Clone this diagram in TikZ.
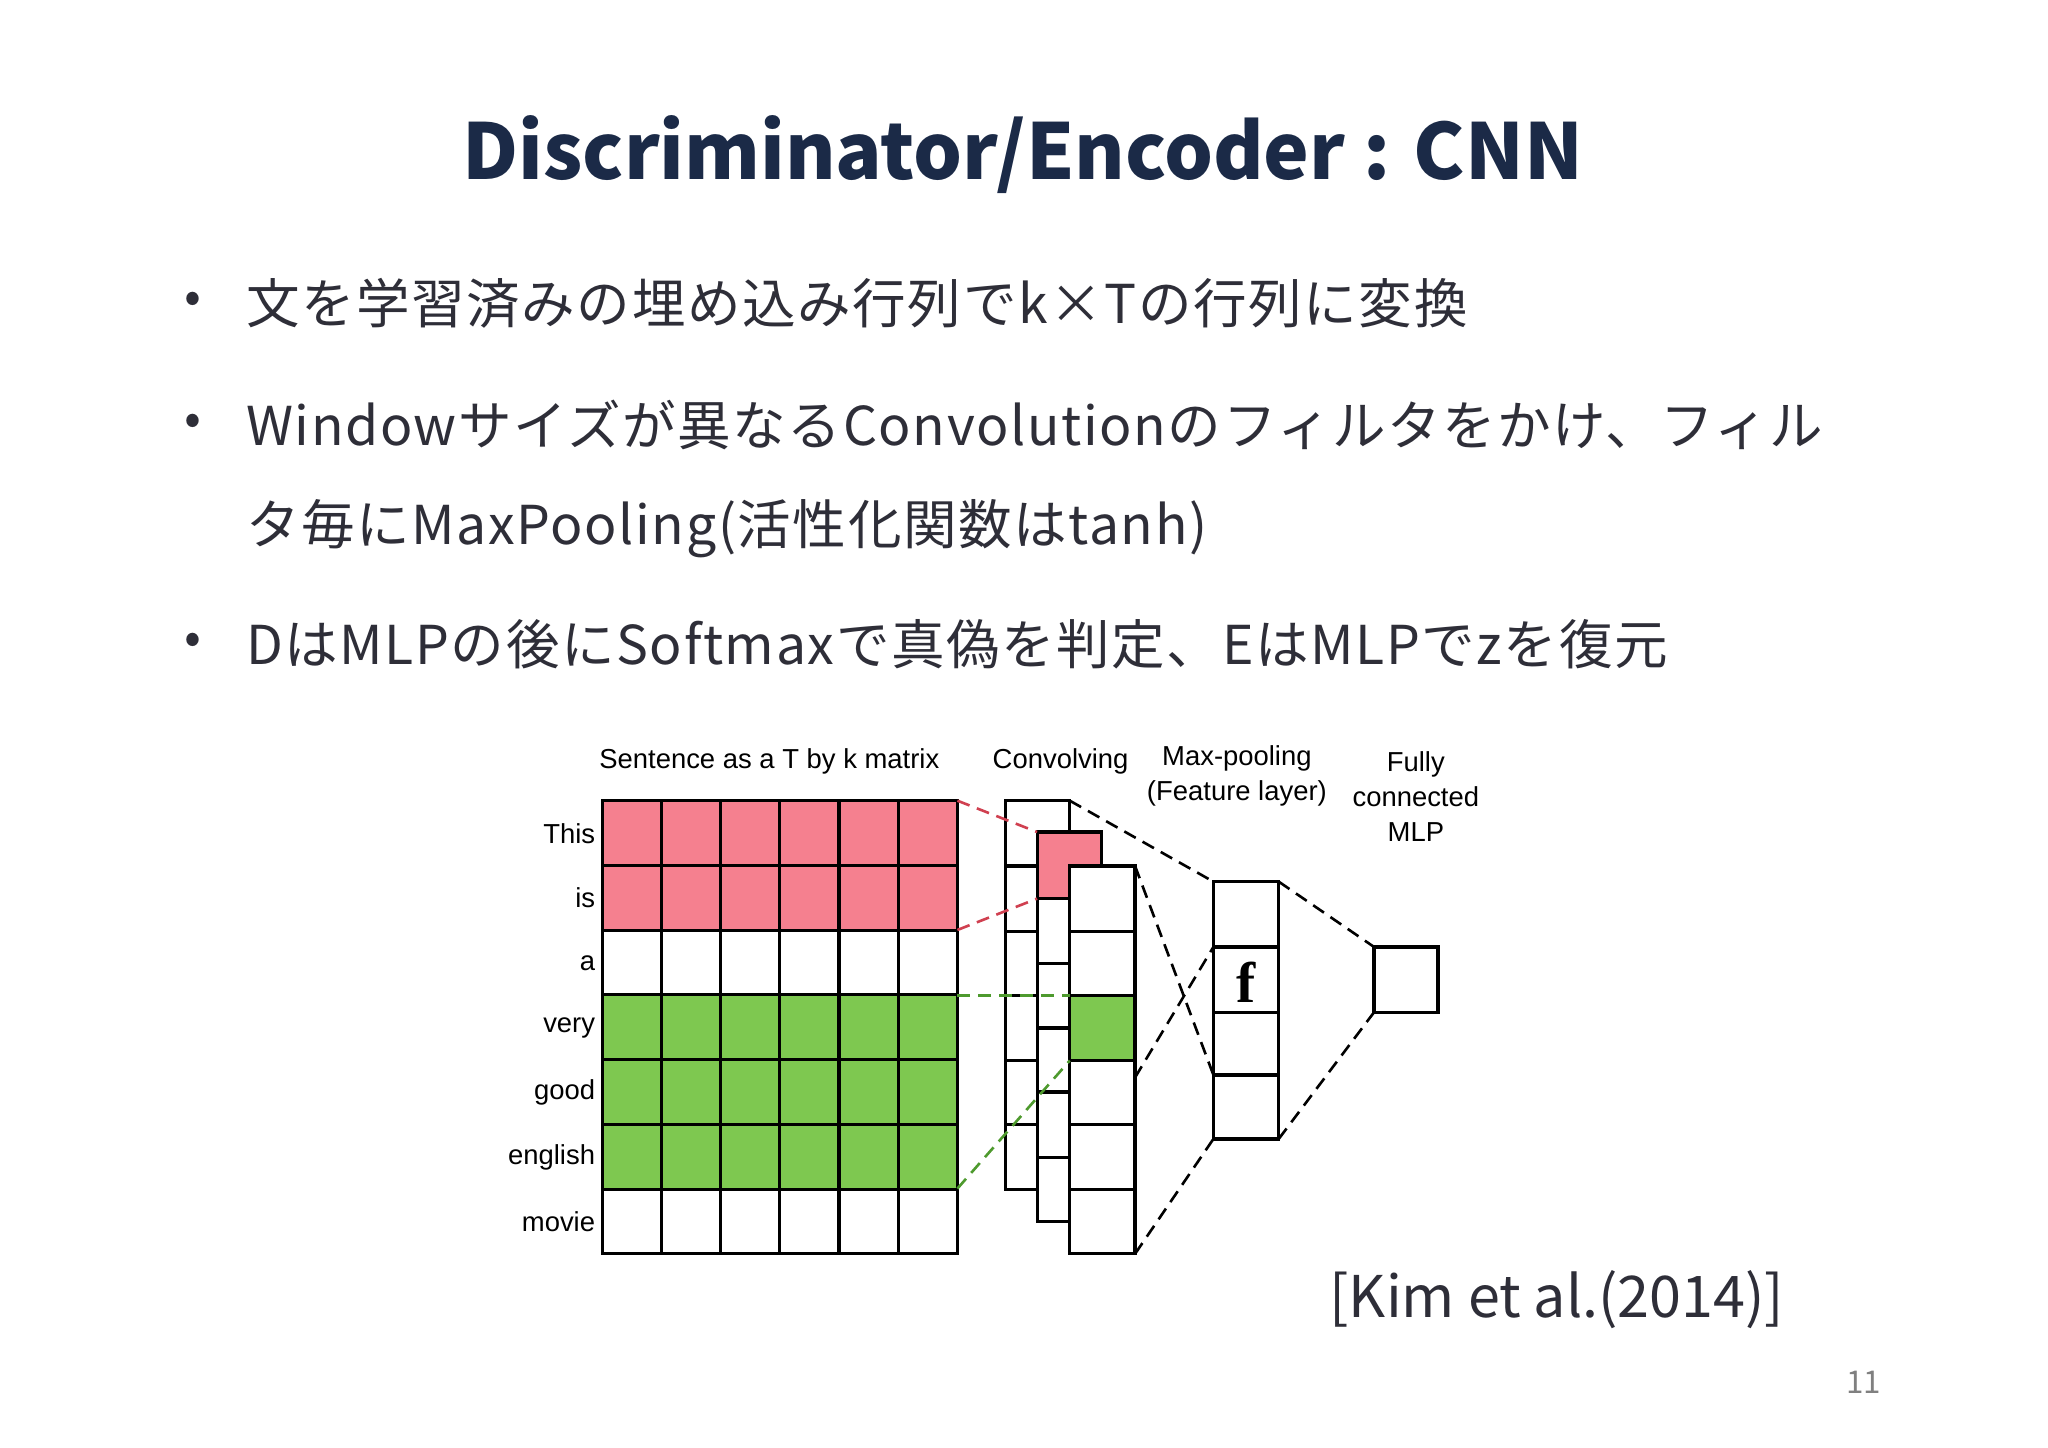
\documentclass[tikz,border=0pt]{standalone}
\usepackage{fontspec}
\setmainfont{Noto Sans CJK JP}
\newfontfamily\bodyf[LetterSpace=3]{Noto Sans CJK JP}
\newfontfamily\lbl{Liberation Sans}
\newfontfamily\serifb{Liberation Serif}
\definecolor{navy}{HTML}{1B2A47}
\definecolor{body}{HTML}{2E2E38}
\definecolor{pinkc}{HTML}{F5808F}
\definecolor{greenc}{HTML}{7EC850}
\definecolor{redd}{HTML}{D04050}
\definecolor{greend}{HTML}{4E9A2E}
\begin{document}
\begin{tikzpicture}[x=0.5pt,y=-0.5pt,
  cell/.style={draw=black,line width=1.2pt},
  dsh/.style={dash pattern=on 5pt off 3pt,line width=1pt},
  blt/.style={anchor=west,font=\bodyf\fontsize{20.5}{24}\selectfont,text=body,inner sep=0},
  lab/.style={font=\lbl\fontsize{10.5}{12.5}\selectfont,inner sep=0,align=center}]
\useasboundingbox (0,0) rectangle (1568,1108);
\fill[white] (0,0) rectangle (1568,1108);
\node[font=\fontsize{29.5}{34}\selectfont\bfseries,text=navy] (title) at (783,118) {Discriminator/Encoder : CNN};
\foreach \y/\n in {232/b1,325/b2,493/b4}{\node[text=body,font=\fontsize{19}{23}\selectfont] (\n d) at (148,\y) {•};}
\node[blt] (b1) at (188,232) {文を学習済みの埋め込み行列でk×Tの行列に変換};
\node[blt] (b2) at (188,325) {Windowサイズが異なるConvolutionのフィルタをかけ、フィル};
\node[blt] (b3) at (188,405) {タ毎にMaxPooling(活性化関数はtanh)};
\node[blt] (b4) at (188,493) {DはMLPの後にSoftmaxで真偽を判定、EはMLPでzを復元};
% matrix
\foreach \r/\c in {0/pinkc,1/pinkc,2/white,3/greenc,4/greenc,5/greenc,6/white}{
  \foreach \k in {0,...,5}{
    \draw[cell,fill=\c] (461+\k*45.33,613+\r*49.57) rectangle ++(45.33,49.57);}}
\foreach \r/\w in {0/This,1/is,2/a,3/very,4/good,5/english,6/movie}{
  \node[lab,anchor=east] (w\r) at (456,638+\r*49.57) {\w};}
% conv col1
\foreach \a/\b in {613/663,663/713,713/762,762/812,812/861,861/911}{\draw[cell,fill=white] (770,\a) rectangle (819,\b);}
% col2
\draw[cell,fill=pinkc] (794,637) rectangle (843,688);
\foreach \a/\b in {688/738,738/787,787/836,836/886,886/935}{\draw[cell,fill=white] (794,\a) rectangle (843,\b);}
% col3
\foreach \a/\b/\c in {663/713/white,713/762/white,762/812/greenc,812/861/white,861/911/white,911/960/white}{\draw[cell,fill=\c] (819,\a) rectangle (869,\b);}
% pooling
\foreach \a/\b in {675/725,725/775,775/823,823/872}{\draw[cell,fill=white] (929,\a) rectangle (979,\b);}
\node[font=\serifb\bfseries\fontsize{22}{24}\selectfont] (f) at (954,752) {f};
\draw[cell,fill=white] (1052,725) rectangle (1101,775);
\coordinate (m1) at (733,613); \coordinate (m2) at (733,712);
\coordinate (m3) at (733,762); \coordinate (m4) at (733,910);
\draw[dsh,redd] (m1) -- (794,637);
\draw[dsh,redd] (m2) -- (794,688);
\draw[dsh,greend] (m3) -- (819,762);
\draw[dsh,greend] (m4) -- (819,812);
\draw[dsh] (819,613) -- (929,675);
\draw[dsh] (869,663) -- (929,823);
\draw[dsh] (869,825) -- (929,725);
\draw[dsh] (869,960) -- (929,872);
\draw[dsh] (979,675) -- (1052,725);
\draw[dsh] (979,872) -- (1052,775);
\node[lab] (l1) at (589,583) {Sentence as a T by k matrix};
\node[lab] (l2) at (812,583) {Convolving};
\node[lab] (l3) at (947,594) {Max-pooling\\[1pt](Feature layer)};
\node[lab] (l4) at (1084,610) {Fully\\[1pt]connected\\[1pt]MLP};
\node[font=\fontsize{22}{26}\selectfont,text=body] (cite) at (1192,995) {[Kim et al.(2014)]};
\node[font=\fontsize{12}{14}\selectfont,text=gray] (pg) at (1427,1058) {11};
\end{tikzpicture}
\end{document}
